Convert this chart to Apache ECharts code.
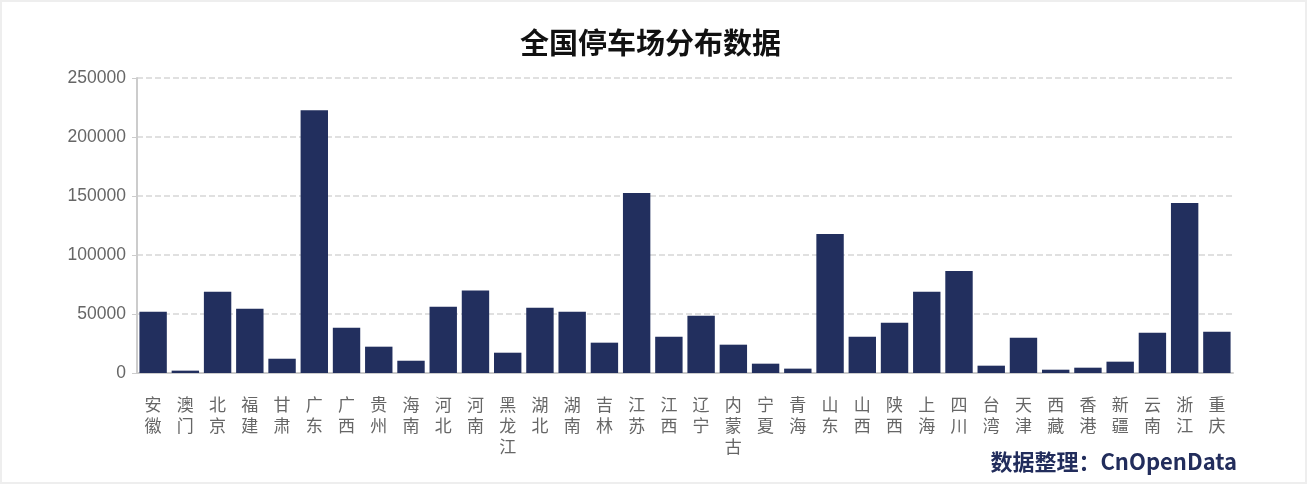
<!DOCTYPE html>
<html><head><meta charset="utf-8">
<script src="https://cdn.jsdelivr.net/npm/echarts@6/dist/echarts.min.js"></script>
<style>html,body{margin:0;padding:0;background:#fff;}#c{width:1303px;height:480px;border:2px solid #eee;}</style>
</head><body><div id="c"></div>
<script>
const categories = ['安徽','澳门','北京','福建','甘肃','广东','广西','贵州','海南','河北','河南','黑龙江','湖北','湖南','吉林','江苏','江西','辽宁','内蒙古','宁夏','青海','山东','山西','陕西','上海','四川','台湾','天津','西藏','香港','新疆','云南','浙江','重庆'];
const parkingCounts = [52000,2000,68800,54400,12100,222700,38300,22300,10400,56100,69900,17200,55300,51900,25700,152500,30700,48500,24000,7900,3700,117800,30700,42600,68800,86500,6200,29900,2800,4500,9600,34100,144000,35000];
const yTicks = {min:0, max:250000, interval:50000};

const chart = echarts.init(document.getElementById('c'));
chart.setOption({
  animation:false,
  title:{text:'全国停车场分布数据', left:513, top:21,
    textStyle:{fontSize:29, fontWeight:'bold', color:'#111', fontFamily:'Noto Sans CJK SC'}},
  grid:{left:135, right:72, top:76, bottom:109},
  graphic:[{type:'text', right:68, bottom:9,
    style:{text:'数据整理：CnOpenData', font:'bold 22px "Noto Sans CJK SC"', fill:'#222d5c'}}],
  xAxis:{type:'category', data:categories,
    axisLine:{lineStyle:{color:'#ccc', width:2}},
    axisTick:{show:false},
    axisLabel:{interval:0, color:'#666', fontSize:17, lineHeight:21, margin:21,
      fontFamily:'Noto Sans CJK SC',
      formatter:v=>v.split('').join('\n')}},
  yAxis:{type:'value', min:yTicks.min, max:yTicks.max, interval:yTicks.interval,
    axisLine:{show:true, lineStyle:{color:'#ccc', width:2}},
    axisTick:{show:true, length:5, lineStyle:{color:'#ccc'}},
    axisLabel:{color:'#666', fontSize:17.5, margin:11, formatter:v=>String(v),
      fontFamily:'Liberation Sans'},
    splitLine:{lineStyle:{type:'dashed', color:'#d6d6d6', width:1.5}}},
  series:[{type:'bar', data:parkingCounts, barCategoryGap:'15%',
    itemStyle:{color:'#222f5e'}}]
});
</script></body></html>
